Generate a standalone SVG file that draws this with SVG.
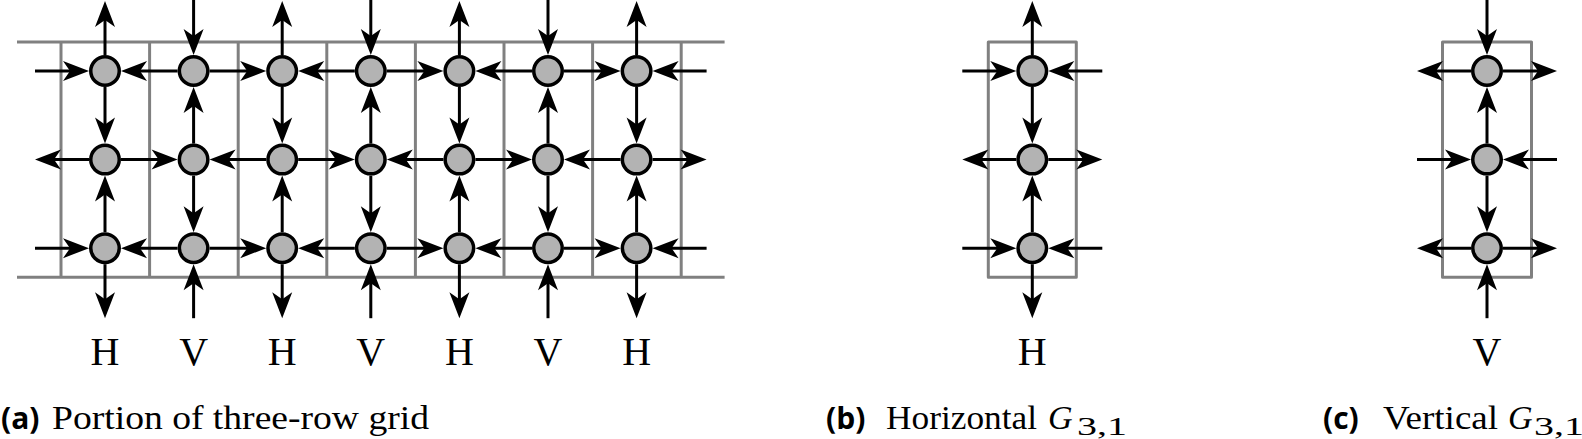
<svg xmlns="http://www.w3.org/2000/svg" width="1582" height="439" viewBox="0 0 1582 439">
<style>
.grid{stroke:#808080;stroke-width:3;fill:none;stroke-linejoin:round}
.nd{fill:#b3b3b3;stroke:#000;stroke-width:3.5}
#connectors line{stroke:#000;stroke-width:3;marker-end:url(#ah)}
.lbl{font-family:"Liberation Serif",serif;font-size:40px;text-anchor:middle;fill:#000}
.cap{font-family:"Liberation Serif",serif;font-size:34px;fill:#000}
.tag{font-family:"Open Sans","Noto Sans",sans-serif;font-weight:bold;font-size:30px;fill:#000}
.it{font-style:italic}
.sub{font-family:"Liberation Serif",serif;font-size:26px;fill:#000}
</style>
<defs>
<marker id="ah" markerUnits="userSpaceOnUse" markerWidth="40" markerHeight="40" viewBox="-20 -20 40 40" refX="0" refY="0" orient="auto" overflow="visible">
<path d="M16,0 L-10,-10 L-3,0 L-10,10 Z" fill="#000"/>
</marker>
</defs>
<g id="frames">
<line class="grid" x1="17" y1="42" x2="724.6" y2="42"/>
<line class="grid" x1="17" y1="277.2" x2="724.6" y2="277.2"/>
<line class="grid" x1="61" y1="42" x2="61" y2="277.2"/>
<line class="grid" x1="149.6" y1="42" x2="149.6" y2="277.2"/>
<line class="grid" x1="238.2" y1="42" x2="238.2" y2="277.2"/>
<line class="grid" x1="326.8" y1="42" x2="326.8" y2="277.2"/>
<line class="grid" x1="415.4" y1="42" x2="415.4" y2="277.2"/>
<line class="grid" x1="504" y1="42" x2="504" y2="277.2"/>
<line class="grid" x1="592.6" y1="42" x2="592.6" y2="277.2"/>
<line class="grid" x1="681.2" y1="42" x2="681.2" y2="277.2"/>
<rect class="grid" x="988.3" y="42" width="88" height="235.2"/>
<rect class="grid" x="1442.5" y="42" width="89" height="235.2"/>
</g>
<g id="connectors">
<line x1="35" y1="71" x2="73" y2="71"/>
<line x1="177.6" y1="71" x2="137" y2="71"/>
<line x1="209.6" y1="71" x2="250.2" y2="71"/>
<line x1="354.8" y1="71" x2="314.2" y2="71"/>
<line x1="386.8" y1="71" x2="427.4" y2="71"/>
<line x1="532" y1="71" x2="491.4" y2="71"/>
<line x1="564" y1="71" x2="604.6" y2="71"/>
<line x1="706.6" y1="71" x2="668.6" y2="71"/>
<line x1="35" y1="248.2" x2="73" y2="248.2"/>
<line x1="177.6" y1="248.2" x2="137" y2="248.2"/>
<line x1="209.6" y1="248.2" x2="250.2" y2="248.2"/>
<line x1="354.8" y1="248.2" x2="314.2" y2="248.2"/>
<line x1="386.8" y1="248.2" x2="427.4" y2="248.2"/>
<line x1="532" y1="248.2" x2="491.4" y2="248.2"/>
<line x1="564" y1="248.2" x2="604.6" y2="248.2"/>
<line x1="706.6" y1="248.2" x2="668.6" y2="248.2"/>
<line x1="89" y1="159.6" x2="51" y2="159.6"/>
<line x1="121" y1="159.6" x2="161.6" y2="159.6"/>
<line x1="266.2" y1="159.6" x2="225.6" y2="159.6"/>
<line x1="298.2" y1="159.6" x2="338.8" y2="159.6"/>
<line x1="443.4" y1="159.6" x2="402.8" y2="159.6"/>
<line x1="475.4" y1="159.6" x2="516" y2="159.6"/>
<line x1="620.6" y1="159.6" x2="580" y2="159.6"/>
<line x1="652.6" y1="159.6" x2="690.6" y2="159.6"/>
<line x1="105" y1="55" x2="105" y2="17"/>
<line x1="105" y1="87" x2="105" y2="127.6"/>
<line x1="105" y1="232.2" x2="105" y2="191.6"/>
<line x1="105" y1="264.2" x2="105" y2="302.2"/>
<line x1="282.2" y1="55" x2="282.2" y2="17"/>
<line x1="282.2" y1="87" x2="282.2" y2="127.6"/>
<line x1="282.2" y1="232.2" x2="282.2" y2="191.6"/>
<line x1="282.2" y1="264.2" x2="282.2" y2="302.2"/>
<line x1="459.4" y1="55" x2="459.4" y2="17"/>
<line x1="459.4" y1="87" x2="459.4" y2="127.6"/>
<line x1="459.4" y1="232.2" x2="459.4" y2="191.6"/>
<line x1="459.4" y1="264.2" x2="459.4" y2="302.2"/>
<line x1="636.6" y1="55" x2="636.6" y2="17"/>
<line x1="636.6" y1="87" x2="636.6" y2="127.6"/>
<line x1="636.6" y1="232.2" x2="636.6" y2="191.6"/>
<line x1="636.6" y1="264.2" x2="636.6" y2="302.2"/>
<line x1="193.6" y1="0" x2="193.6" y2="39"/>
<line x1="193.6" y1="143.6" x2="193.6" y2="103"/>
<line x1="193.6" y1="175.6" x2="193.6" y2="216.2"/>
<line x1="193.6" y1="318.2" x2="193.6" y2="280.2"/>
<line x1="370.8" y1="0" x2="370.8" y2="39"/>
<line x1="370.8" y1="143.6" x2="370.8" y2="103"/>
<line x1="370.8" y1="175.6" x2="370.8" y2="216.2"/>
<line x1="370.8" y1="318.2" x2="370.8" y2="280.2"/>
<line x1="548" y1="0" x2="548" y2="39"/>
<line x1="548" y1="143.6" x2="548" y2="103"/>
<line x1="548" y1="175.6" x2="548" y2="216.2"/>
<line x1="548" y1="318.2" x2="548" y2="280.2"/>
<line x1="962.3" y1="71" x2="1000.3" y2="71"/>
<line x1="1102.3" y1="71" x2="1064.3" y2="71"/>
<line x1="962.3" y1="248.2" x2="1000.3" y2="248.2"/>
<line x1="1102.3" y1="248.2" x2="1064.3" y2="248.2"/>
<line x1="1016.3" y1="159.6" x2="978.3" y2="159.6"/>
<line x1="1048.3" y1="159.6" x2="1086.3" y2="159.6"/>
<line x1="1032.3" y1="55" x2="1032.3" y2="17"/>
<line x1="1032.3" y1="87" x2="1032.3" y2="127.6"/>
<line x1="1032.3" y1="232.2" x2="1032.3" y2="191.6"/>
<line x1="1032.3" y1="264.2" x2="1032.3" y2="302.2"/>
<line x1="1471" y1="71" x2="1433" y2="71"/>
<line x1="1503" y1="71" x2="1541" y2="71"/>
<line x1="1471" y1="248.2" x2="1433" y2="248.2"/>
<line x1="1503" y1="248.2" x2="1541" y2="248.2"/>
<line x1="1417" y1="159.6" x2="1455" y2="159.6"/>
<line x1="1557" y1="159.6" x2="1519" y2="159.6"/>
<line x1="1487" y1="0" x2="1487" y2="39"/>
<line x1="1487" y1="143.6" x2="1487" y2="103"/>
<line x1="1487" y1="175.6" x2="1487" y2="216.2"/>
<line x1="1487" y1="318.2" x2="1487" y2="280.2"/>
</g>
<g id="n-0-0"><circle class="nd" cx="105" cy="71" r="14.25"/></g>
<g id="n-0-1"><circle class="nd" cx="193.6" cy="71" r="14.25"/></g>
<g id="n-0-2"><circle class="nd" cx="282.2" cy="71" r="14.25"/></g>
<g id="n-0-3"><circle class="nd" cx="370.8" cy="71" r="14.25"/></g>
<g id="n-0-4"><circle class="nd" cx="459.4" cy="71" r="14.25"/></g>
<g id="n-0-5"><circle class="nd" cx="548" cy="71" r="14.25"/></g>
<g id="n-0-6"><circle class="nd" cx="636.6" cy="71" r="14.25"/></g>
<g id="n-1-0"><circle class="nd" cx="105" cy="159.6" r="14.25"/></g>
<g id="n-1-1"><circle class="nd" cx="193.6" cy="159.6" r="14.25"/></g>
<g id="n-1-2"><circle class="nd" cx="282.2" cy="159.6" r="14.25"/></g>
<g id="n-1-3"><circle class="nd" cx="370.8" cy="159.6" r="14.25"/></g>
<g id="n-1-4"><circle class="nd" cx="459.4" cy="159.6" r="14.25"/></g>
<g id="n-1-5"><circle class="nd" cx="548" cy="159.6" r="14.25"/></g>
<g id="n-1-6"><circle class="nd" cx="636.6" cy="159.6" r="14.25"/></g>
<g id="n-2-0"><circle class="nd" cx="105" cy="248.2" r="14.25"/></g>
<g id="n-2-1"><circle class="nd" cx="193.6" cy="248.2" r="14.25"/></g>
<g id="n-2-2"><circle class="nd" cx="282.2" cy="248.2" r="14.25"/></g>
<g id="n-2-3"><circle class="nd" cx="370.8" cy="248.2" r="14.25"/></g>
<g id="n-2-4"><circle class="nd" cx="459.4" cy="248.2" r="14.25"/></g>
<g id="n-2-5"><circle class="nd" cx="548" cy="248.2" r="14.25"/></g>
<g id="n-2-6"><circle class="nd" cx="636.6" cy="248.2" r="14.25"/></g>
<g id="h-0"><circle class="nd" cx="1032.3" cy="71" r="14.25"/></g>
<g id="h-1"><circle class="nd" cx="1032.3" cy="159.6" r="14.25"/></g>
<g id="h-2"><circle class="nd" cx="1032.3" cy="248.2" r="14.25"/></g>
<g id="v-0"><circle class="nd" cx="1487" cy="71" r="14.25"/></g>
<g id="v-1"><circle class="nd" cx="1487" cy="159.6" r="14.25"/></g>
<g id="v-2"><circle class="nd" cx="1487" cy="248.2" r="14.25"/></g>
<g id="labels">
<text class="lbl" x="105" y="365">H</text>
<text class="lbl" x="193.6" y="365">V</text>
<text class="lbl" x="282.2" y="365">H</text>
<text class="lbl" x="370.8" y="365">V</text>
<text class="lbl" x="459.4" y="365">H</text>
<text class="lbl" x="548" y="365">V</text>
<text class="lbl" x="636.6" y="365">H</text>
<text class="lbl" x="1032.3" y="365">H</text>
<text class="lbl" x="1487" y="365">V</text>
</g>
<g id="captions">
<text class="tag" x="1" y="429">(a)</text>
<text class="cap" x="52" y="429" textLength="377" lengthAdjust="spacingAndGlyphs">Portion of three-row grid</text>
<text class="tag" x="826" y="429">(b)</text>
<text class="cap" x="886" y="429" textLength="151" lengthAdjust="spacingAndGlyphs">Horizontal</text>
<text class="cap it" x="1048" y="429">G</text>
<text class="sub" x="1077" y="435" textLength="50" lengthAdjust="spacingAndGlyphs">3,1</text>
<text class="tag" x="1323" y="429">(c)</text>
<text class="cap" x="1383" y="429" textLength="115" lengthAdjust="spacingAndGlyphs">Vertical</text>
<text class="cap it" x="1508" y="429">G</text>
<text class="sub" x="1534" y="435" textLength="50" lengthAdjust="spacingAndGlyphs">3,1</text>
</g>
</svg>
